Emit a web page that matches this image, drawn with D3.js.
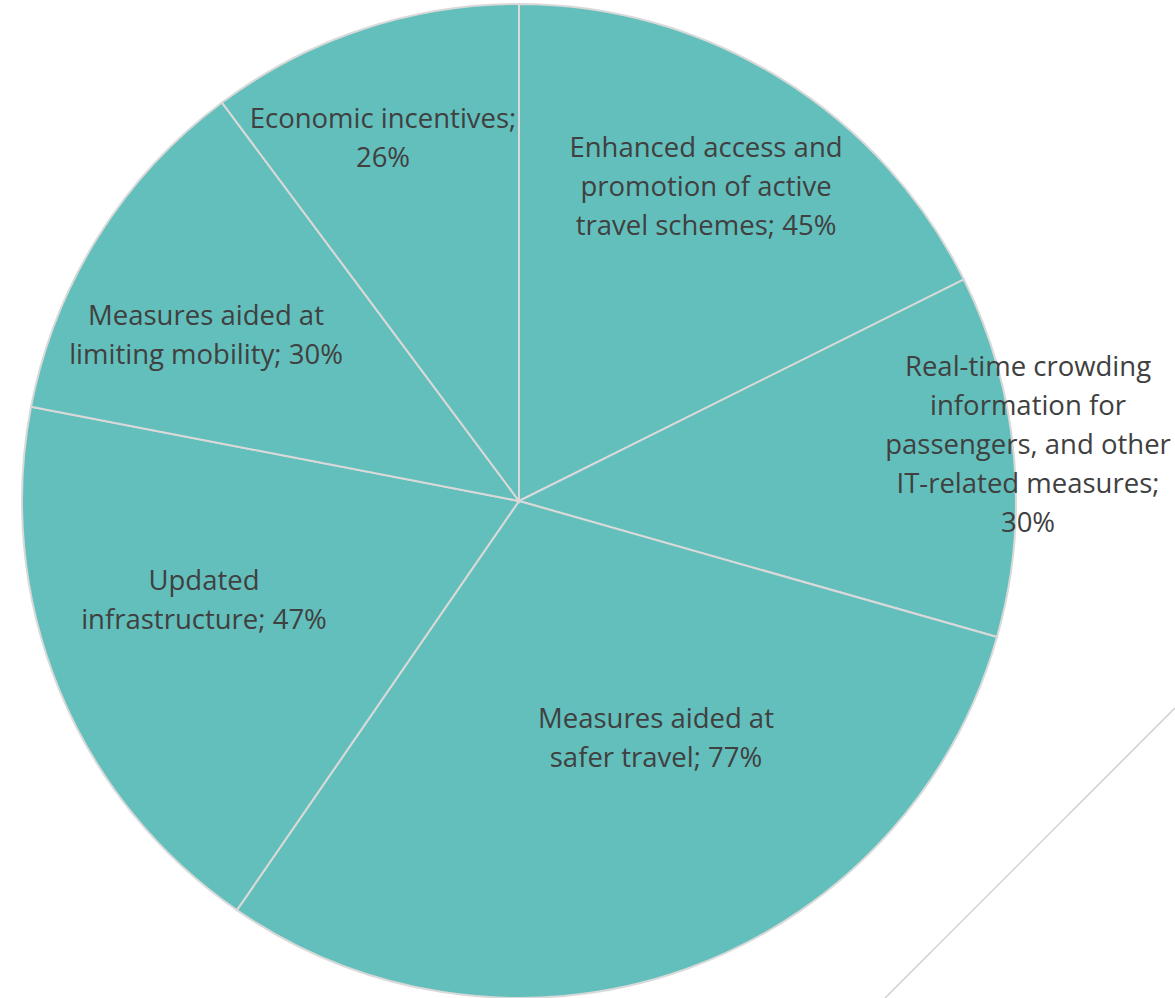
<!DOCTYPE html>
<html>
<head>
  <meta charset="utf-8">
  <title>Pie chart</title>
  <script src="https://d3js.org/d3.v7.min.js"></script>
  <style>
    body { margin: 0; background: #fff; }
    text { font-family: "Open Sans", "Noto Sans", sans-serif; fill: #404040; }
  </style>
</head>
<body>
  <script>
    // slice names (label lines) and shares, clockwise from 12 o'clock
    const categories = [
      ["Enhanced access and", "promotion of active", "travel schemes; 45%"],
      ["Real-time crowding", "information for", "passengers, and other", "IT-related measures;", "30%"],
      ["Measures aided at", "safer travel; 77%"],
      ["Updated", "infrastructure; 47%"],
      ["Measures aided at", "limiting mobility; 30%"],
      ["Economic incentives;", "26%"]
    ];
    const values = [45, 30, 77, 47, 30, 26];

    // where each label block is centred (the chart's best-fit placement)
    const labelAt = [[706, 186], [1028, 444], [656, 738], [204, 600], [206, 335], [383, 138]];

    const width = 1175, height = 998;
    const cx = 519, cy = 501, radius = 497;

    const svg = d3.select("body")
      .append("svg")
      .attr("width", width)
      .attr("height", height);

    // thin decorative line bottom right
    svg.append("line")
      .attr("x1", 1175).attr("y1", 708)
      .attr("x2", 885).attr("y2", 998)
      .attr("stroke", "#d0d0d0")
      .attr("stroke-width", 1.5);

    const pie = d3.pie().sort(null).value(d => d);
    const arc = d3.arc().innerRadius(0).outerRadius(radius);

    const g = svg.append("g")
      .attr("transform", `translate(${cx},${cy})`);

    g.selectAll("path")
      .data(pie(values))
      .enter()
      .append("path")
      .attr("d", arc)
      .attr("fill", "#63bfbc")
      .attr("stroke", "#d9d9d9")
      .attr("stroke-width", 2);

    const lineH = 39;
    const labels = svg.selectAll(".label")
      .data(categories)
      .enter()
      .append("text")
      .attr("class", "label")
      .attr("text-anchor", "middle")
      .attr("font-size", 27.5)
      .attr("transform", (d, i) => `translate(${labelAt[i][0]},${labelAt[i][1]})`);

    labels.each(function(lines) {
      const t = d3.select(this);
      const top = -(lines.length - 1) * lineH / 2;
      lines.forEach((s, j) => {
        t.append("tspan")
          .attr("x", 0)
          .attr("y", top + j * lineH)
          .attr("dy", "0.35em")
          .text(s);
      });
    });
  </script>
</body>
</html>
